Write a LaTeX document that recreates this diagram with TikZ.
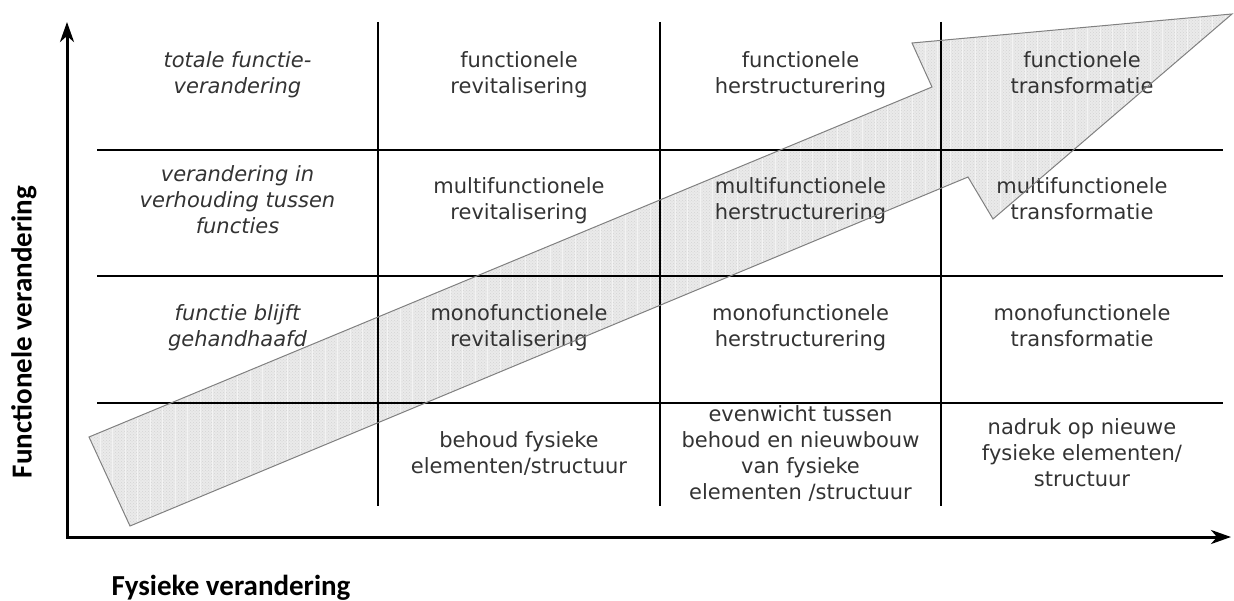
\documentclass[tikz,border=0pt]{standalone}
\usepackage{fontspec}
\setmainfont{DejaVu Sans}
\newfontfamily\axisfont{Carlito}
\usetikzlibrary{arrows.meta,patterns}

\definecolor{celltext}{HTML}{333333}
\definecolor{bandfill}{HTML}{EAEAEA}
\definecolor{banddots}{HTML}{D3D3D3}
\definecolor{bandgrid}{HTML}{F3F3F3}
\definecolor{bandedge}{HTML}{808080}

\begin{document}
\begin{tikzpicture}[x=1pt,y=-1pt,
  cell/.style={align=center, inner sep=0pt, text=celltext,
    font=\fontsize{21}{26}\selectfont,
    execute at begin node=\strut, execute at end node=\strut},
  rowlabel/.style={cell, font=\fontsize{21}{26}\selectfont\itshape},
  axislabel/.style={inner sep=0pt, font=\axisfont\bfseries\fontsize{29}{34}\selectfont},
  axisline/.style={line width=3pt, line join=miter,
    {Stealth[length=20pt,width=14pt,inset=6pt]}-{Stealth[length=20pt,width=14pt,inset=6pt]}},
  gridh/.style={line width=2pt},
  gridv/.style={line width=1.3pt},
  gridvmain/.style={line width=2.2pt},
  bandbody/.style={fill=bandfill},
  banddotted/.style={pattern=crosshatch dots, pattern color=banddots},
  bandline/.style={draw=bandedge, line width=1pt, line join=miter}
]
\useasboundingbox (0,0) rectangle (1234,601);

% growth arrow: tail corners, shaft, notches and head
\coordinate (tailA) at (89,437);
\coordinate (tailB) at (130,526);
\coordinate (notchU) at (932,87);
\coordinate (barbU) at (912,43);
\coordinate (tip) at (1232,14);
\coordinate (barbL) at (993,219);
\coordinate (notchL) at (968,177);
\fill[bandbody] (tailA) -- (notchU) -- (barbU) -- (tip) -- (barbL) -- (notchL) -- (tailB) -- cycle;
\fill[banddotted] (tailA) -- (notchU) -- (barbU) -- (tip) -- (barbL) -- (notchL) -- (tailB) -- cycle;
\begin{scope}
  \clip (tailA) -- (notchU) -- (barbU) -- (tip) -- (barbL) -- (notchL) -- (tailB) -- cycle;
  \draw[bandgrid, line width=0.6pt, step=12.5] (80,0) grid (1240,540);
\end{scope}

% table grid
\draw[gridh] (97,150) -- (1223,150);
\draw[gridh] (97,276) -- (1223,276);
\draw[gridh] (97,403) -- (1223,403);
\draw[gridv] (378,22) -- (378,506);
\draw[gridvmain] (660,22) -- (660,506);
\draw[gridv] (941,22) -- (941,506);

% axes
\coordinate (ytip) at (67,22);
\coordinate (origin) at (67,537);
\coordinate (xtip) at (1231,537);
\draw[axisline] (ytip) -- (origin) -- (xtip);

% row labels
\node[rowlabel] (r1) at (237.5,76) {totale functie-\\verandering};
\node[rowlabel] (r2) at (237.5,203) {verandering in\\verhouding tussen\\functies};
\node[rowlabel] (r3) at (237.5,329) {functie blijft\\gehandhaafd};

% cells
\node[cell] (c12) at (519,76) {functionele\\revitalisering};
\node[cell] (c13) at (800.5,76) {functionele\\herstructurering};
\node[cell] (c14) at (1082,76) {functionele\\transformatie};
\node[cell] (c22) at (519,202) {multifunctionele\\revitalisering};
\node[cell] (c23) at (800.5,202) {multifunctionele\\herstructurering};
\node[cell] (c24) at (1082,202) {multifunctionele\\transformatie};
\node[cell] (c32) at (519,329) {monofunctionele\\revitalisering};
\node[cell] (c33) at (800.5,329) {monofunctionele\\herstructurering};
\node[cell] (c34) at (1082,329) {monofunctionele\\transformatie};
\node[cell] (c42) at (519,456) {behoud fysieke\\elementen/structuur};
\node[cell] (c43) at (800.5,456) {evenwicht tussen\\behoud en nieuwbouw\\van fysieke\\elementen /structuur};
\node[cell] (c44) at (1082,456) {nadruk op nieuwe\\fysieke elementen/\\structuur};

% outline of the growth arrow, drawn over the grid
\draw[bandline] (tailA) -- (notchU) -- (barbU) -- (tip) -- (barbL) -- (notchL) -- (tailB) -- cycle;

% axis titles
\node[axislabel, rotate=90] (ylab) at (24,332) {Functionele verandering};
\node[axislabel] (xlab) at (231,588) {Fysieke verandering};
\end{tikzpicture}
\end{document}
